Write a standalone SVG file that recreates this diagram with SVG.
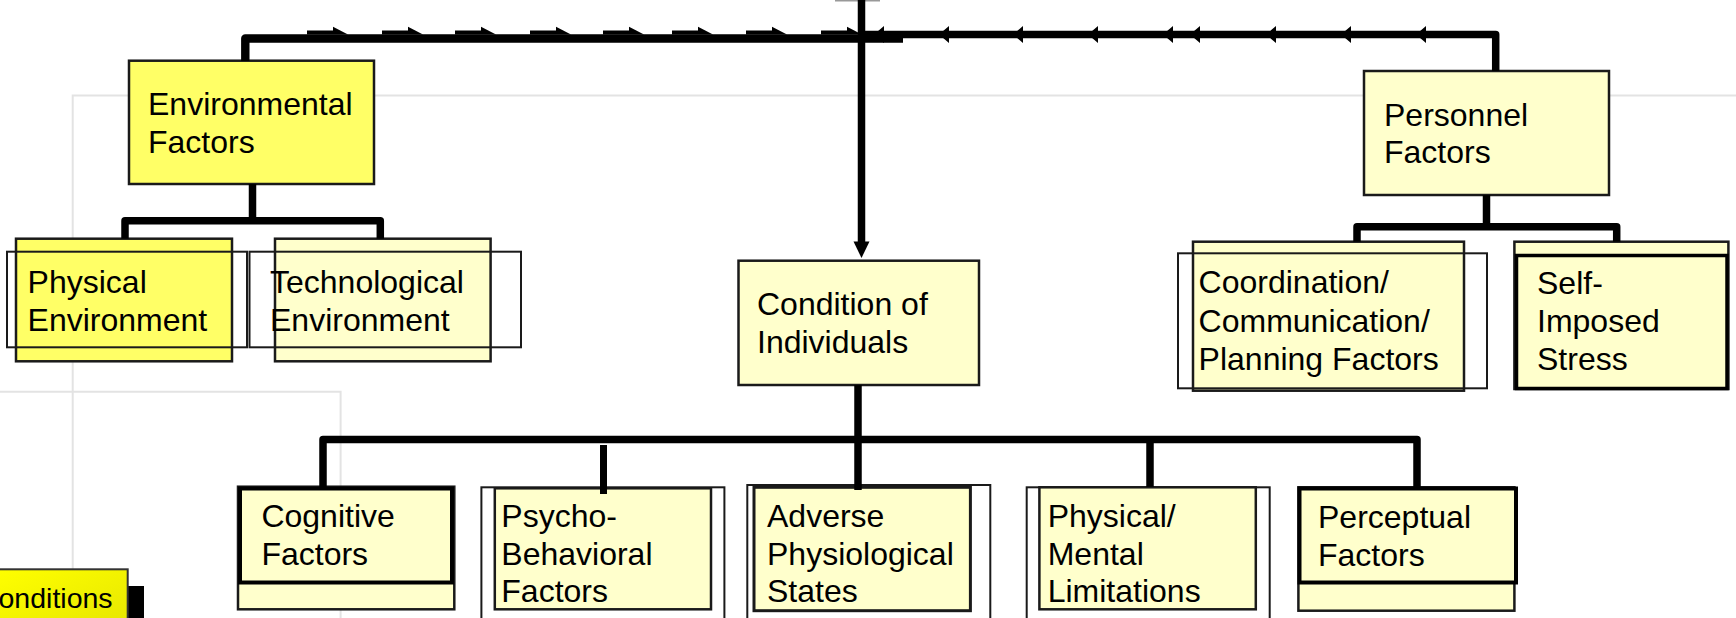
<svg xmlns="http://www.w3.org/2000/svg" width="1736" height="618" viewBox="0 0 1736 618">
<defs>
<linearGradient id="lblGrad" x1="0" y1="0" x2="1" y2="1">
<stop offset="0" stop-color="#FFFF00"/>
<stop offset="1" stop-color="#E6E600"/>
</linearGradient>
</defs>
<style>
.t{font-family:"Liberation Sans",Arial,sans-serif;font-size:32px;fill:#000}
.lt{font-family:"Liberation Sans",Arial,sans-serif;font-size:28.5px;fill:#000}
.bright{fill:#FFFF66;stroke:#1a1a1a;stroke-width:2.5}
.light{fill:#FFFFCC;stroke:#1a1a1a;stroke-width:2.5}
.heavy{fill:#FFFFCC;stroke:#000;stroke-width:4}
.frame{fill:none;stroke:#1a1a1a;stroke-width:2}
.frameH{fill:none;stroke:#000;stroke-width:3.5}
.conn{fill:none;stroke:#000;stroke-width:7.5;stroke-linejoin:round}
.bg{fill:none;stroke:#e3e3e3;stroke-width:2}
.ah{fill:#000}
</style>
<rect x="0" y="0" width="1736" height="618" fill="#fff"/>
<g id="background">
<path class="bg" d="M72.7,620 V95.5 H1740"/>
<path class="bg" d="M-2,391.7 H340.6 V620"/>
<rect x="835" y="0" width="45" height="1.5" fill="#999"/>
</g>

<g id="environmental-factors">
<rect class="bright" x="129" y="60.7" width="245" height="123.3"/>
<text class="t" x="148" y="115">Environmental</text>
<text class="t" x="148" y="153.3">Factors</text>
</g>
<g id="personnel-factors">
<rect class="light" x="1364" y="71" width="245" height="124"/>
<text class="t" x="1384" y="126">Personnel</text>
<text class="t" x="1384" y="163.3">Factors</text>
</g>
<g id="condition-of-individuals">
<rect class="light" x="738.5" y="260.7" width="240.5" height="124.3"/>
<text class="t" x="757" y="315">Condition of</text>
<text class="t" x="757" y="353.3">Individuals</text>
</g>
<g id="physical-environment">
<rect class="bright" x="16" y="238.7" width="216" height="122.6"/>
<rect class="frame" x="7" y="251.7" width="240" height="95.6"/>
<text class="t" x="27.6" y="293.3">Physical</text>
<text class="t" x="27.6" y="330.7">Environment</text>
</g>
<g id="technological-environment">
<rect class="light" x="275" y="238.7" width="215.6" height="122.6"/>
<rect class="frame" x="249.5" y="251.7" width="271.5" height="95.6"/>
<text class="t" x="270" y="293.3">Technological</text>
<text class="t" x="270" y="330.7">Environment</text>
</g>
<g id="coordination-communication-planning">
<rect class="light" x="1193" y="241.7" width="271" height="149"/>
<rect class="frame" x="1178" y="253.3" width="309" height="135"/>
<text class="t" x="1198.6" y="293.3">Coordination/</text>
<text class="t" x="1198.6" y="331.7">Communication/</text>
<text class="t" x="1198.6" y="370">Planning Factors</text>
</g>
<g id="self-imposed-stress">
<rect class="light" x="1514.4" y="241.7" width="214" height="147.3"/>
<rect class="frameH" x="1516.5" y="255.5" width="210.5" height="133"/>
<text class="t" x="1537" y="294.3">Self-</text>
<text class="t" x="1537" y="331.7">Imposed</text>
<text class="t" x="1537" y="370">Stress</text>
</g>
<g id="cognitive-factors">
<rect class="light" x="238" y="486.7" width="216.3" height="122.6"/>
<rect class="heavy" x="240" y="488.5" width="212" height="94"/>
<text class="t" x="261.4" y="526.7">Cognitive</text>
<text class="t" x="261.4" y="565">Factors</text>
</g>
<g id="psycho-behavioral-factors">
<rect class="frame" x="481.4" y="487.3" width="243" height="145"/>
<rect class="light" x="494.8" y="488.3" width="216.2" height="121"/>
<text class="t" x="501.3" y="526.7">Psycho-</text>
<text class="t" x="501.3" y="565">Behavioral</text>
<text class="t" x="501.3" y="602">Factors</text>
</g>
<g id="adverse-physiological-states">
<rect class="frame" x="747.3" y="485" width="243" height="147"/>
<rect class="light" style="stroke-width:3" x="754" y="487.3" width="216.4" height="123.4"/>
<text class="t" x="767" y="526.7">Adverse</text>
<text class="t" x="767" y="565">Physiological</text>
<text class="t" x="767" y="602">States</text>
</g>
<g id="physical-mental-limitations">
<rect class="frame" x="1026.7" y="487.3" width="243" height="145"/>
<rect class="light" x="1039.4" y="487.3" width="216.4" height="122"/>
<text class="t" x="1047.7" y="526.7">Physical/</text>
<text class="t" x="1047.7" y="565">Mental</text>
<text class="t" x="1047.7" y="602">Limitations</text>
</g>
<g id="perceptual-factors">
<rect class="light" x="1298.4" y="487.3" width="216" height="123.4"/>
<rect class="heavy" x="1299.5" y="488.5" width="216.5" height="94"/>
<text class="t" x="1318" y="527.5">Perceptual</text>
<text class="t" x="1318" y="565.5">Factors</text>
</g>
<g id="conditions-label">
<rect x="14" y="586" width="130" height="50" fill="#000"/>
<rect x="-3" y="569.3" width="130.7" height="60" fill="url(#lblGrad)" stroke="#333" stroke-width="2"/>
<text class="lt" x="-1.5" y="607.5">onditions</text>
</g>

<g id="connectors">
<path class="conn" style="stroke-width:8.4" d="M245.3,61 V38.5 H903"/>
<path class="conn" d="M862,34.5 H1495.7 V71"/>
<path class="ah" d="M307,30.5 H333 V26.7 L348,34.5 H307 Z M382,30.5 H408 V26.7 L423,34.5 H382 Z M455,30.5 H481 V26.7 L496,34.5 H455 Z M530,30.5 H556 V26.7 L571,34.5 H530 Z M603,30.5 H629 V26.7 L644,34.5 H603 Z M672,30.5 H698 V26.7 L713,34.5 H672 Z M746,30.5 H772 V26.7 L787,34.5 H746 Z M821,30.5 H847 V26.7 L862,34.5 H821 Z"/>
<path class="ah" d="M874,34.5 L884,26 L884,43 Z M939,34.5 L949,26 L949,43 Z M1013,34.5 L1023,26 L1023,43 Z M1088,34.5 L1098,26 L1098,43 Z M1163,34.5 L1173,26 L1173,43 Z M1190,34.5 L1200,26 L1200,43 Z M1266,34.5 L1276,26 L1276,43 Z M1341,34.5 L1351,26 L1351,43 Z M1416,34.5 L1426,26 L1426,43 Z"/>
<path class="conn" d="M861.5,0 V243"/>
<path class="ah" d="M853.5,241.5 H869.5 L861.5,258 Z"/>
<path class="conn" d="M252.5,184 V220.7"/>
<path class="conn" d="M125,238.7 V220.7 H380.3 V238.7"/>
<path class="conn" d="M1486.5,195 V226.7"/>
<path class="conn" d="M1357,241.7 V226.7 H1616.7 V241.7"/>
<path class="conn" d="M858,385 V490"/>
<path class="conn" d="M323,487 V439.5 H1417 V487"/>
<path class="conn" style="stroke-width:7" d="M603.5,445 V494"/>
<path class="conn" d="M1150,439.5 V487"/>
</g>
</svg>
